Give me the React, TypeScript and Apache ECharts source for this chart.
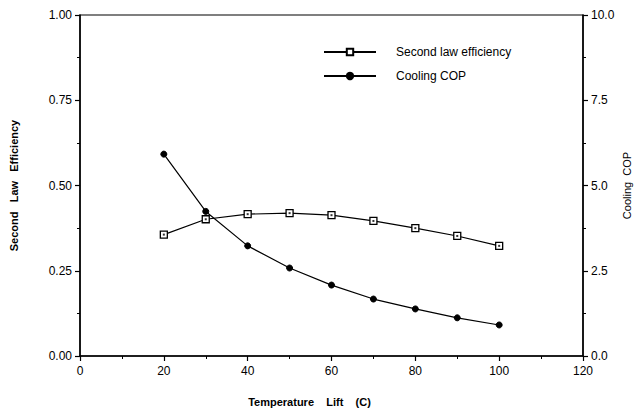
import React, { useEffect, useRef } from "react";
import * as echarts from "echarts";

const lift = [20, 30, 40, 50, 60, 70, 80, 90, 100];
const secondLawEff = [0.356, 0.401, 0.416, 0.419, 0.413, 0.396, 0.375, 0.352, 0.323];
const coolingCOP = [5.92, 4.24, 3.23, 2.58, 2.08, 1.67, 1.38, 1.12, 0.91];

const FONT = "'Liberation Sans', Arial, Helvetica, sans-serif";

export default function App() {
  const ref = useRef<HTMLDivElement>(null);
  useEffect(() => {
    if (!ref.current) return;
    const chart = echarts.init(ref.current, null, { renderer: "svg", width: 635, height: 408 });
    const effData = lift.map((x, i) => [x, secondLawEff[i]]);
    const copData = lift.map((x, i) => [x, coolingCOP[i]]);
    const axisCommon = {
      axisLine: { show: true, lineStyle: { color: "#000", width: 1.5 } },
      axisTick: { show: true, inside: false, length: 5, lineStyle: { color: "#000", width: 1.2 } },
      minorTick: { show: true, splitNumber: 2, length: 3, lineStyle: { color: "#000", width: 1 } },
      splitLine: { show: false },
      axisLabel: { color: "#000", fontFamily: FONT, fontSize: 12 },
    };
    chart.setOption({
      animation: false,
      backgroundColor: "#fff",
      textStyle: { fontFamily: FONT },
      grid: {
        left: 80,
        right: 52,
        top: 15,
        bottom: 52,
        containLabel: false,
        outerBoundsMode: "none",
        show: true,
        borderColor: "#000",
        borderWidth: 1.2,
        backgroundColor: "transparent",
      },
      legend: {
        orient: "vertical",
        left: 318,
        top: 41,
        itemWidth: 52,
        itemHeight: 8,
        itemGap: 12,
        textStyle: { color: "#000", fontFamily: FONT, fontSize: 12, padding: [0, 0, 0, 15] },
        data: ["Second law efficiency", "Cooling COP"],
      },
      xAxis: {
        type: "value",
        min: 0,
        max: 120,
        interval: 20,
        ...axisCommon,
        axisLabel: { ...axisCommon.axisLabel, margin: 9 },
        name: "Temperature    Lift    (C)",
        nameLocation: "middle",
        nameGap: 40,
        nameTextStyle: {
          color: "#000",
          fontFamily: FONT,
          fontSize: 11,
          fontWeight: "bold",
          padding: [0, 44, 0, 0],
        },
      },
      yAxis: [
        {
          type: "value",
          min: 0,
          max: 1,
          interval: 0.25,
          position: "left",
          ...axisCommon,
          axisLabel: {
            ...axisCommon.axisLabel,
            margin: 8,
            formatter: (v: number) => v.toFixed(2),
          },
          name: "Second   Law   Efficiency",
          nameLocation: "middle",
          nameGap: 61,
          nameTextStyle: {
            color: "#000",
            fontFamily: FONT,
            fontSize: 11,
            fontWeight: "bold",
          },
        },
        {
          type: "value",
          min: 0,
          max: 10,
          interval: 2.5,
          position: "right",
          ...axisCommon,
          axisLabel: {
            ...axisCommon.axisLabel,
            margin: 8,
            formatter: (v: number) => v.toFixed(1),
          },
          name: "Cooling  COP",
          nameLocation: "middle",
          nameGap: 38,
          nameMoveOverlap: false,
          nameTextStyle: {
            color: "#000",
            fontFamily: FONT,
            fontSize: 11,
          },
        },
      ],
      series: [
        {
          name: "Second law efficiency",
          type: "line",
          yAxisIndex: 0,
          data: effData,
          symbol: "rect",
          symbolSize: 7,
          lineStyle: { color: "#000", width: 1.2 },
          itemStyle: { color: "#fff", borderColor: "#000", borderWidth: 1.3 },
          z: 3,
        },
        {
          name: "Second law efficiency dot",
          type: "scatter",
          yAxisIndex: 0,
          data: effData,
          symbol: "rect",
          symbolSize: 2,
          itemStyle: { color: "#000" },
          z: 4,
          silent: true,
        },
        {
          name: "Cooling COP",
          type: "line",
          yAxisIndex: 1,
          data: copData,
          symbol: "circle",
          symbolSize: 6,
          lineStyle: { color: "#000", width: 1.2 },
          itemStyle: { color: "#000", borderColor: "#000", borderWidth: 1 },
          z: 3,
        },
      ],
    });
    return () => chart.dispose();
  }, []);
  return (
    <div
      ref={ref}
      style={{ position: "fixed", left: 0, top: 0, width: 635, height: 408 }}
    />
  );
}
